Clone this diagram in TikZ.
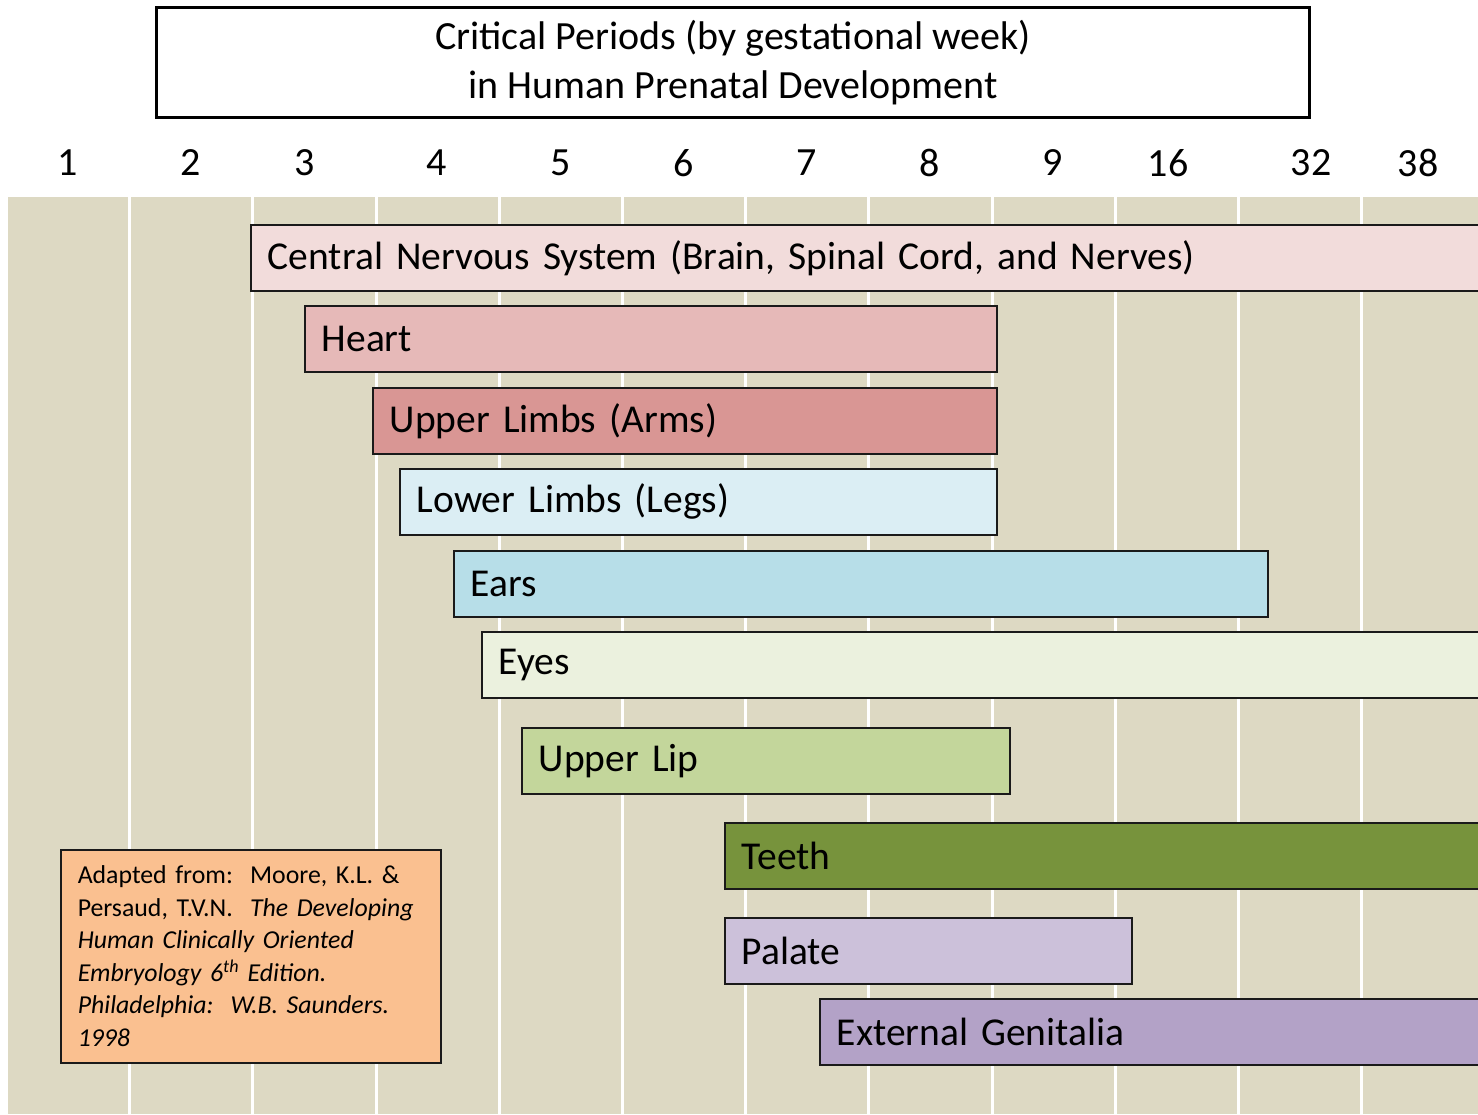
\documentclass[tikz,border=0pt]{standalone}
\usepackage{fontspec}
\setmainfont{Carlito}
\definecolor{bgtan}{HTML}{DDD9C3}
\definecolor{cns}{HTML}{F2DCDB}
\definecolor{heart}{HTML}{E6B9B8}
\definecolor{ulimb}{HTML}{D99694}
\definecolor{llimb}{HTML}{DBEEF4}
\definecolor{ears}{HTML}{B7DEE8}
\definecolor{eyes}{HTML}{EBF1DE}
\definecolor{lip}{HTML}{C3D69B}
\definecolor{teeth}{HTML}{77933C}
\definecolor{palate}{HTML}{CCC1DA}
\definecolor{genit}{HTML}{B3A2C7}
\definecolor{cite}{HTML}{FAC090}
\definecolor{edge}{HTML}{1A1A1A}
\tikzset{
  bar/.style={draw=edge, line width=1.5pt, anchor=north west, minimum height=66pt,
    inner xsep=17pt, inner ysep=0pt, align=left, font=\fontsize{39.5}{42}\selectfont},
  week/.style={font=\fontsize{40}{44}\selectfont, anchor=center, inner sep=0pt},
}
\begin{document}
\begin{tikzpicture}[x=1pt,y=-1pt]
\clip (0,0) rectangle (1478,1114);
\fill[white] (0,0) rectangle (1478,1114);
% background columns
\fill[bgtan] (8,197) rectangle (1478,1114);
\foreach \x in {129,252,376,499,622,745,868,992,1115,1238,1361}
  \fill[white] (\x-1.5,197) rectangle (\x+1.5,1114);
% title
\node[draw=black, line width=3pt, minimum width=1153pt, minimum height=110pt, anchor=north west,
  align=center, font=\fontsize{40}{49}\selectfont, inner sep=0pt] (title) at (155,6)
  {Critical Periods (by gestational week)\\in Human Prenatal Development};
% week labels
\node[week] (w1) at (68,163) {1};
\node[week] (w2) at (191,163) {2};
\node[week] (w3) at (305,163) {3};
\node[week] (w4) at (437,163) {4};
\node[week] (w5) at (561,163) {5};
\node[week] (w6) at (684,163) {6};
\node[week] (w7) at (807,163) {7};
\node[week] (w8) at (930,163) {8};
\node[week] (w9) at (1053,163) {9};
\node[week] (w16) at (1168,163) {16};
\node[week] (w32) at (1311,163) {32};
\node[week] (w38) at (1418,163) {38};
% bars
\node[bar, fill=cns, minimum width=1240pt, text width=1206pt] (cns) at (250,224) {Central Nervous System (Brain, Spinal Cord, and Nerves)};
\node[bar, fill=heart, minimum width=692pt, text width=658pt] (heart) at (304,305) {Heart};
\node[bar, fill=ulimb, minimum width=624pt, text width=590pt] (ulimb) at (372,387) {Upper Limbs (Arms)};
\node[bar, fill=llimb, minimum width=597pt, text width=563pt] (llimb) at (399,468) {Lower Limbs (Legs)};
\node[bar, fill=ears, minimum width=814pt, text width=780pt] (ears) at (453,550) {Ears};
\node[bar, fill=eyes, minimum width=1010pt, text width=976pt] (eyes) at (481,631) {Eyes};
\node[bar, fill=lip, minimum width=488pt, text width=454pt] (lip) at (521,727) {Upper Lip};
\node[bar, fill=teeth, minimum width=770pt, text width=736pt] (teeth) at (724,822) {Teeth};
\node[bar, fill=palate, minimum width=407pt, text width=373pt] (palate) at (724,917) {Palate};
\node[bar, fill=genit, minimum width=670pt, text width=636pt] (genit) at (819,998) {External Genitalia};
% citation
\node[draw=edge, line width=1.5pt, fill=cite, anchor=north west, minimum width=380pt, minimum height=213pt,
  inner xsep=17pt, inner ysep=7pt, text width=346pt, align=left,
  font=\fontsize{25.8}{32.5}\selectfont] (cite) at (60,849)
  {Adapted from:\ \ Moore, K.L. \&\\Persaud, T.V.N.\ \ \textit{The Developing}\\\textit{Human Clinically Oriented}\\\textit{Embryology 6\textsuperscript{th} Edition.}\\\textit{Philadelphia:\ \ W.B. Saunders.}\\\textit{1998}};
\end{tikzpicture}
\end{document}
